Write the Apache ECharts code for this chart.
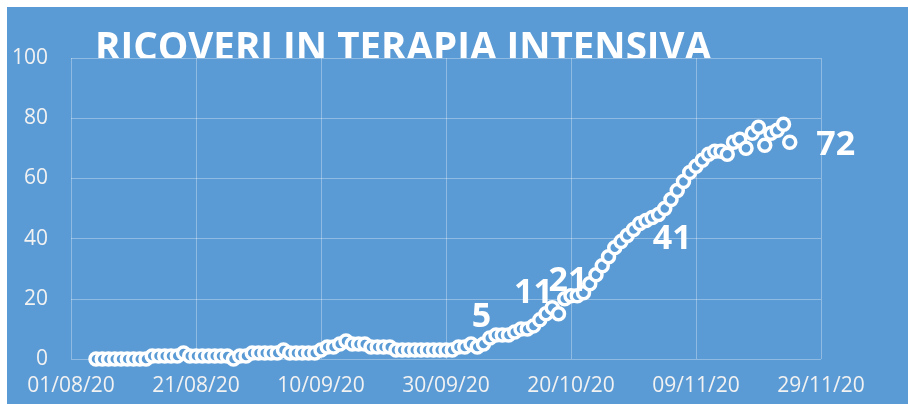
<!DOCTYPE html>
<html>
<head>
<meta charset="utf-8">
<script src="https://cdn.jsdelivr.net/npm/echarts@6/dist/echarts.min.js"></script>
<style>
  body { margin: 0; background: #fff; }
  #terapiaIntensiva { position: absolute; left: 7px; top: 7px; width: 901px; height: 397px; }
</style>
</head>
<body>
<div id="terapiaIntensiva"></div>
<script>
// dati
const axisStart = "2020-08-01";
const axisEnd = "2020-11-29";
const firstDay = "2020-08-05"; // un punto al giorno da qui
const ricoveri = [
  0, 0, 0, 0, 0, 0, 0, 0, 0,
  1, 1, 1, 1, 1, 2, 1, 1, 1, 1, 1, 1, 1, 0, 1, 1,
  2, 2, 2, 2, 2, 3, 2, 2, 2, 2, 2, 3, 4, 4, 5, 6, 5, 5, 5, 4, 4, 4, 4,
  3, 3, 3, 3, 3, 3, 3, 3, 3, 3,
  4, 4, 5, 4,
  5, 7, 8, 8, 8, 9, 10, 10, 11, 13,
  15, 17, 15, 20, 21, 21, 22, 25, 28, 31,
  34, 37, 39, 41, 43, 45, 46, 47, 48, 50,
  53, 56, 59, 62, 64, 66, 68, 69, 69, 68,
  72, 73, 70, 75, 77, 71, 75, 76, 78, 72,
];
const labelDays = ["2020-10-06", "2020-10-14", "2020-10-20", "2020-10-29", "2020-11-24"];
const yTicks = [0, 20, 40, 60, 80, 100];

const DAY = 86400000;
const dayOf = (s) => Math.round((Date.parse(s) - Date.parse(axisStart)) / DAY);
const first = dayOf(firstDay);
const labelSet = labelDays.map(dayOf);

// spostamento delle etichette rispetto al punto
const labelOffsets = [[-2, -27], [0, -33], [-3, -14], [45, 4], [46, 3]];

const pad = (n) => (n < 10 ? "0" + n : "" + n);
const fmtDay = (d) => {
  const dt = new Date(Date.parse(axisStart) + d * DAY);
  return pad(dt.getUTCDate()) + "/" + pad(dt.getUTCMonth() + 1) + "/" + String(dt.getUTCFullYear()).slice(2);
};

const points = ricoveri.map((v, i) => {
  const d = first + i;
  const k = labelSet.indexOf(d);
  if (k < 0) return [d, v];
  return {
    value: [d, v],
    label: { show: true, position: "inside", offset: labelOffsets[k] },
  };
});

let myChart = echarts.init(document.getElementById("terapiaIntensiva"));
let option;
option = {
  backgroundColor: "#5B9BD5",
  animation: false,
  title: {
    // il titolo sta sotto l'area del grafico, come nell'originale
    z: 0,
    text: "RICOVERI IN TERAPIA INTENSIVA",
    left: 88,
    top: 23,
    padding: 0,
    textStyle: {
      color: "#fff",
      fontFamily: "Open Sans",
      fontWeight: "bold",
      fontSize: 38.5,
    },
  },
  grid: {
    z: 1,
    show: true,
    backgroundColor: "#5B9BD5",
    borderWidth: 0,
    left: 64,
    right: 87,
    top: 51,
    bottom: 45,
  },
  xAxis: {
    z: 2,
    type: "value",
    min: 0,
    max: dayOf(axisEnd),
    interval: 20,
    axisLine: { show: false },
    axisTick: { show: false },
    splitLine: { lineStyle: { color: "rgba(255,255,255,0.32)", width: 1 } },
    axisLabel: {
      color: "#f2f2f2",
      fontFamily: "Open Sans",
      fontSize: 21,
      margin: 17,
      formatter: fmtDay,
    },
  },
  yAxis: {
    z: 2,
    type: "value",
    min: yTicks[0],
    max: yTicks[yTicks.length - 1],
    interval: 20,
    axisLine: { show: false },
    axisTick: { show: false },
    splitLine: { lineStyle: { color: "rgba(255,255,255,0.32)", width: 1 } },
    axisLabel: {
      color: "#f2f2f2",
      fontFamily: "Open Sans",
      fontSize: 21,
      margin: 23,
    },
  },
  series: [
    {
      z: 3,
      type: "scatter",
      symbol: "circle",
      symbolSize: 12,
      itemStyle: {
        color: "#5B9BD5",
        borderColor: "#fff",
        borderWidth: 3.5,
        opacity: 1,
      },
      label: {
        color: "#fff",
        fontFamily: "Open Sans",
        fontWeight: "bold",
        fontSize: 34,
        formatter: (p) => p.value[1],
      },
      data: points,
    },
  ],
};
myChart.setOption(option);
</script>
</body>
</html>
